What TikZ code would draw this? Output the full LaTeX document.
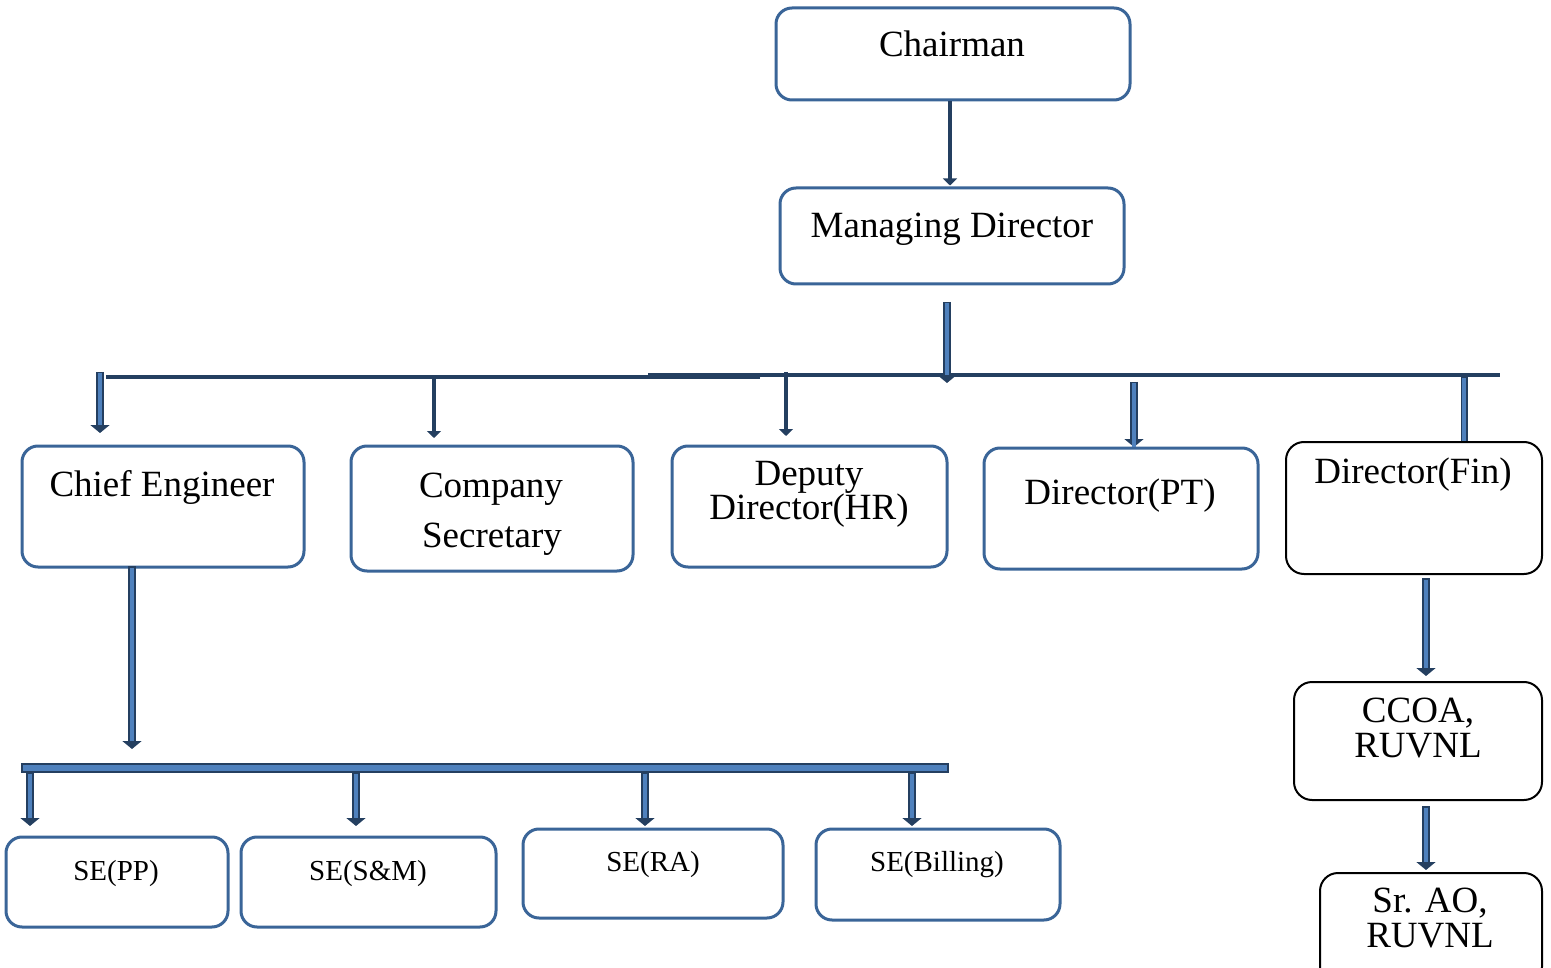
\documentclass[tikz,border=0pt]{standalone}
\usepackage{fontspec}
\setmainfont{Liberation Serif}
\usetikzlibrary{arrows.meta}
\definecolor{boxblue}{HTML}{3A6598}
\definecolor{navy}{HTML}{243F60}
\definecolor{lightblue}{HTML}{4F81BD}
\newcommand\barrow[3][]{%
  \draw[navy, line width=8pt, -{Triangle[width=19pt,length=8pt]}, #1] (#2) -- (#3);
  \draw[lightblue, line width=4.2pt, shorten >=8pt, shorten <=1.5pt, #1] (#2) -- (#3);}
\newcommand\bline[3][]{%
  \draw[navy, line width=7pt, #1] (#2) -- (#3);
  \draw[lightblue, line width=3.4pt, shorten <=1.5pt, #1] (#2) -- (#3);}
\tikzset{
  box/.style={draw=boxblue, line width=3pt, rounded corners=16pt, fill=white, inner sep=0pt},
  bbox/.style={draw=black, line width=2pt, rounded corners=18pt, fill=white, inner sep=0pt},
  big/.style={font=\fontsize{37}{37}\selectfont, inner sep=0pt, anchor=base},
  small/.style={font=\fontsize{29}{29}\selectfont, inner sep=0pt, anchor=base},
  thinarr/.style={draw=navy, line width=4.5pt, -{Triangle[width=14pt,length=7pt]}},
  barline/.style={draw=navy, line width=4pt},
}
\begin{document}
\begin{tikzpicture}[x=1pt,y=-1pt]
\useasboundingbox (0,0) rectangle (1551,968);
% boxes
\node[box, minimum width=354pt, minimum height=92pt] (chair) at (953,54) {};
\node[box, minimum width=344pt, minimum height=96pt] (md) at (952,236) {};
\node[box, minimum width=282pt, minimum height=121pt] (ce) at (163,506.5) {};
\node[box, minimum width=282pt, minimum height=125pt] (cs) at (492,508.5) {};
\node[box, minimum width=275pt, minimum height=121pt] (dd) at (809.5,506.5) {};
\node[box, minimum width=274pt, minimum height=121pt] (dpt) at (1121,508.5) {};
\node[bbox, minimum width=256pt, minimum height=132pt] (dfin) at (1414,508) {};
\node[bbox, minimum width=248pt, minimum height=118pt] (ccoa) at (1418,741) {};
\node[bbox, minimum width=222pt, minimum height=112pt] (srao) at (1431,929) {};
\node[box, minimum width=222pt, minimum height=90pt] (sepp) at (117,882) {};
\node[box, minimum width=255pt, minimum height=90pt] (sesm) at (368.5,882) {};
\node[box, minimum width=260pt, minimum height=89pt] (sera) at (653,873.5) {};
\node[box, minimum width=244pt, minimum height=91pt] (sebi) at (938,874.5) {};
% texts
\node[big] (chairT) at (952,57) {Chairman};
\node[big] (mdT) at (952,238) {Managing Director};
\node[big] (ceT) at (162,496) {Chief Engineer};
\node[big] (csT1) at (491,497) {Company};
\node[big] (csT2) at (492,547) {Secretary};
\node[big] (ddT1) at (809,485) {Deputy};
\node[big] (ddT2) at (809,519) {Director(HR)};
\node[big] (dptT) at (1120,504) {Director(PT)};
\node[big] (dfinT) at (1413,483) {Director(Fin)};
\node[big] (ccoaT1) at (1418,722) {CCOA,};
\node[big] (ccoaT2) at (1418,757) {RUVNL};
\node[big] (sraoT1) at (1430,912) {Sr. AO,};
\node[big] (sraoT2) at (1430,947) {RUVNL};
\node[small] (seppT) at (116,880) {SE(PP)};
\node[small] (sesmT) at (368,880) {SE(S\&M)};
\node[small] (seraT) at (653,871) {SE(RA)};
\node[small] (sebiT) at (937,871) {SE(Billing)};
% coordinates
\coordinate (mdOut) at (947,302);
\coordinate (barC) at (947,383);
\coordinate (barL) at (106,377);
\coordinate (barLm) at (760,377);
\coordinate (barRm) at (648,375);
\coordinate (barR) at (1500,375);
\coordinate (ceIn) at (100,372);
\coordinate (csIn) at (434,378);
\coordinate (ddIn) at (786,372);
\coordinate (dptIn) at (1134,382);
\coordinate (dfinIn) at (1464,377);
\coordinate (ceOut) at (132,566);
\coordinate (ceDn) at (132,749);
\coordinate (b1) at (30,772);
\coordinate (b2) at (356,772);
\coordinate (b3) at (645,772);
\coordinate (b4) at (912,772);
\coordinate (finOut) at (1426,578);
\coordinate (ccoaOut) at (1426,806);
% connectors
\draw[thinarr, shorten >=1pt] (chair.south -| 950,0) -- (md.north -| 950,0);
\draw[barline] (barL) -- (barLm);
\draw[barline] (barRm) -- (barR);
\draw[navy, line width=2pt] (barRm) -- (barLm);
\barrow{mdOut}{barC}
\barrow{ceIn}{ceIn |- 0,433}
\draw[thinarr] (csIn) -- (csIn |- 0,438);
\draw[thinarr] (ddIn) -- (ddIn |- 0,436);
\barrow[shorten >=-0.5pt]{dptIn}{dptIn |- dpt.north}
\bline{dfinIn}{dfinIn |- dfin.north}
\barrow{ceOut}{ceDn}
\draw[navy, line width=1.3pt, fill=lightblue] (22,764) rectangle (948,772);
\barrow{b1}{b1 |- 0,826}
\barrow{b2}{b2 |- 0,826}
\barrow{b3}{b3 |- 0,826}
\barrow{b4}{b4 |- 0,826}
\barrow{finOut}{finOut |- 0,676}
\barrow{ccoaOut}{ccoaOut |- 0,870}
\end{tikzpicture}
\end{document}
